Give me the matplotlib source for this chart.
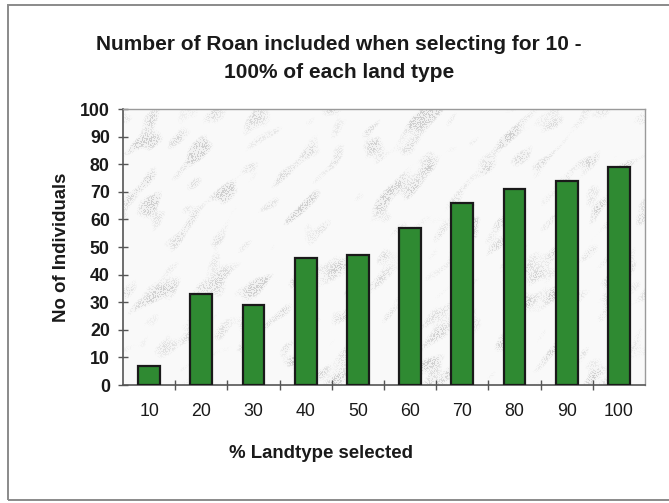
import numpy as np
import matplotlib.pyplot as plt
from matplotlib.patches import Rectangle

plt.rcParams['font.family'] = ['Liberation Sans', 'DejaVu Sans']

# Roan counts per percentage of land type selected
pct_selected = ['10', '20', '30', '40', '50', '60', '70', '80', '90', '100']
roan_counts = [7, 33, 29, 46, 47, 57, 66, 71, 74, 79]

bar_color = '#2f8a32'
text_color = '#1a1a1a'

fig = plt.figure(figsize=(6.69, 5.03), dpi=100)
W, H = 669, 503

# outer chart border
fig.patches.append(Rectangle((8 / W, 3 / H), 1.0, 495 / H, transform=fig.transFigure,
                             fill=False, edgecolor='#8a8a8a', linewidth=1.4))

ax = fig.add_axes([123 / W, 1 - 385 / H, (645 - 123) / W, (385 - 109) / H])

# faint speckled marble fill for the plot area
rng = np.random.default_rng(11)
ny, nx = 276, 522
fy = np.fft.fftfreq(ny)[:, None]
fx = np.fft.fftfreq(nx)[None, :]
u = (fx + fy) / np.sqrt(2)
v = (fx - fy) / np.sqrt(2)
filt = np.exp(-(u / 0.06) ** 2 - (v / 0.025) ** 2)
streak = np.real(np.fft.ifft2(np.fft.fft2(rng.standard_normal((ny, nx))) * filt))
streak = (streak - streak.mean()) / streak.std()
patch = np.clip((streak - 0.5) / 1.6, 0, 1)
fine = rng.random((ny, nx))
dots = (fine > 0.6) * patch * 0.13 + patch * 0.03
gray = np.clip(0.975 - dots, 0.75, 1.0)
ax.imshow(gray, cmap='gray', vmin=0, vmax=1, extent=(0, 1, 0, 1),
          transform=ax.transAxes, aspect='auto', interpolation='bilinear', zorder=0)

x = np.arange(len(pct_selected))
ax.bar(x, roan_counts, width=0.42, color=bar_color, edgecolor='#1a1a1a',
       linewidth=1.6, zorder=3)

ax.set_xlim(-0.5, len(pct_selected) - 0.5)
ax.set_ylim(0, 100)
ax.set_yticks(range(0, 101, 10))
ax.set_xticks(x)
ax.set_xticklabels(pct_selected)
ax.set_xticks(np.arange(0.5, len(pct_selected) - 0.5, 1), minor=True)

ax.tick_params(axis='x', which='major', length=0, pad=13, labelsize=12.8, colors=text_color)
ax.tick_params(axis='x', which='minor', length=7, direction='inout', width=1.0, color='#555555')
ax.tick_params(axis='y', length=7, direction='inout', width=1.0, color='#555555',
               pad=6, labelsize=12.8, labelcolor=text_color)
for lab in ax.get_yticklabels():
    lab.set_fontweight('bold')

for side in ['left', 'bottom']:
    ax.spines[side].set_color('#555555')
    ax.spines[side].set_linewidth(1.2)
for side in ['top', 'right']:
    ax.spines[side].set_color('#9a9a9a')
    ax.spines[side].set_linewidth(1.0)

fig.text(339 / W, 1 - 45 / H, 'Number of Roan included when selecting for 10 -',
         ha='center', va='center', fontsize=15, fontweight='bold', color=text_color)
fig.text(339 / W, 1 - 72 / H, '100% of each land type',
         ha='center', va='center', fontsize=15, fontweight='bold', color=text_color)
fig.text(321 / W, 1 - 454 / H, '% Landtype selected',
         ha='center', va='center', fontsize=13.4, fontweight='bold', color=text_color)
fig.text(61 / W, 1 - 247 / H, 'No of Individuals', rotation=90,
         ha='center', va='center', fontsize=13.4, fontweight='bold', color=text_color)

fig.savefig('out.png', dpi=100)
